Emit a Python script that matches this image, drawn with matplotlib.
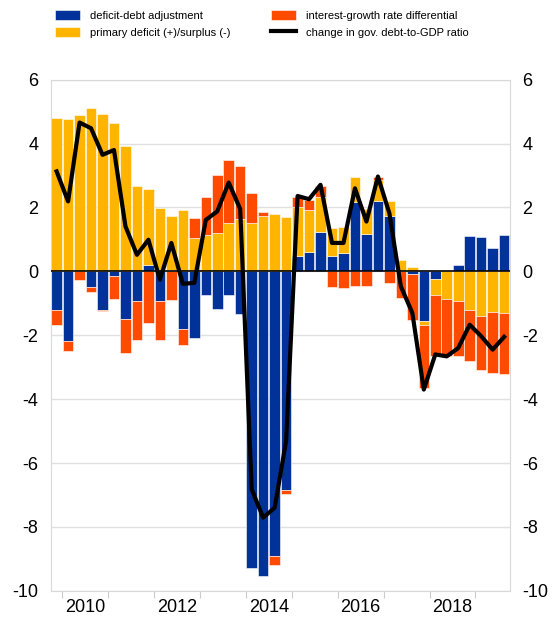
import matplotlib.pyplot as plt
import numpy as np

plt.rcParams['font.family'] = ['Liberation Sans', 'DejaVu Sans']
plt.rcParams['axes.unicode_minus'] = False

# quarterly data, 2009Q4 - 2019Q3
dda = [-1.20, -2.17, 0.00, -0.49, -1.20, -0.16, -1.49, -0.94, 0.21, -0.94,
       0.03, -1.80, -2.08, -0.73, -1.18, -0.75, -1.34, -9.29, -9.53, -8.90,
       -6.85, 0.47, 0.62, 1.22, 0.47, 0.57, 2.17, 1.18, 2.21, 1.72,
       0.00, -0.08, -1.56, -0.24, 0.00, 0.20, 1.11, 1.09, 0.74, 1.14]
primary = [4.81, 4.77, 4.89, 5.11, 4.93, 4.63, 3.92, 2.66, 2.37, 1.98,
           1.69, 1.93, 1.06, 1.13, 1.21, 1.52, 1.64, 1.53, 1.72, 1.79,
           1.71, 1.55, 1.29, 1.12, 0.88, 0.83, 0.80, 0.77, 0.65, 0.49,
           0.36, 0.15, -0.11, -0.49, -0.85, -0.92, -1.20, -1.39, -1.28, -1.30]
irgd = [-0.49, -0.33, -0.26, -0.16, -0.04, -0.70, -1.06, -1.20, -1.61, -1.22,
        -0.90, -0.52, 0.62, 1.20, 1.80, 1.97, 1.65, 0.93, 0.13, -0.30,
        -0.13, 0.32, 0.32, 0.33, -0.50, -0.53, -0.45, -0.47, 0.08, -0.36,
        -0.83, -1.43, -1.98, -1.91, -1.81, -1.72, -1.61, -1.71, -1.90, -1.90]
change = [3.13, 2.19, 4.66, 4.48, 3.65, 3.80, 1.41, 0.52, 0.99, -0.26,
          0.89, -0.39, -0.36, 1.61, 1.88, 2.78, 1.95, -6.82, -7.71, -7.40,
          -5.31, 2.36, 2.26, 2.71, 0.89, 0.89, 2.60, 1.56, 2.97, 1.82,
          -0.47, -1.30, -3.70, -2.60, -2.66, -2.40, -1.67, -2.03, -2.45, -2.05]
years = ["2010", "2012", "2014", "2016", "2018"]

series = [
    (dda, "#003299", "deficit-debt adjustment"),
    (primary, "#FFB400", "primary deficit (+)/surplus (-)"),
    (irgd, "#FF4B00", "interest-growth rate differential"),
]

fig = plt.figure(figsize=(5.53, 6.18), dpi=100)
ax = fig.add_axes([0.092, 0.044, 0.83, 0.827])

x = np.arange(len(dda))
pos = np.zeros(len(x))
neg = np.zeros(len(x))
handles = []
for vals, col, lab in series:
    v = np.array(vals)
    b = np.where(v >= 0, pos, neg)
    h = ax.bar(x, v, bottom=b, width=0.92, color=col, edgecolor="white",
               linewidth=0.4, label=lab, zorder=2)
    handles.append(h)
    pos = pos + np.clip(v, 0, None)
    neg = neg + np.clip(v, None, 0)

ln, = ax.plot(x, change, color="black", lw=3, zorder=4,
              label="change in gov. debt-to-GDP ratio")

ax.axhline(0, color="black", lw=1.2, zorder=3)

ax.set_ylim(-10, 6)
ax.set_xlim(-0.5, len(x) - 0.5)
ax.set_yticks(range(-10, 7, 2))
ax.grid(axis="y", color="#e0e0e0", lw=1, zorder=0)
ax.tick_params(axis="y", length=0, labelsize=13, pad=9,
               labelleft=True, labelright=True)

# year boundaries as tick marks, labels centered between
ax.set_xticks(np.arange(0.5, 40, 4))
ax.set_xticklabels([])
ax.set_xticks([2.5 + 8 * i for i in range(len(years))], minor=True)
ax.set_xticklabels(years, minor=True)
ax.tick_params(axis="x", which="major", length=5, color="#cccccc")
ax.tick_params(axis="x", which="minor", length=0, labelsize=13, pad=6)

for s in ax.spines.values():
    s.set_color("#d9d9d9")

fig.legend(handles=[handles[0], handles[1], handles[2], ln],
           loc="upper left", bbox_to_anchor=(0.082, 1.0), ncol=2,
           frameon=False, fontsize=8, handlelength=2.2, handleheight=1.0,
           columnspacing=3.7, labelspacing=0.55, handletextpad=0.9)

plt.savefig("out.png", dpi=100)
